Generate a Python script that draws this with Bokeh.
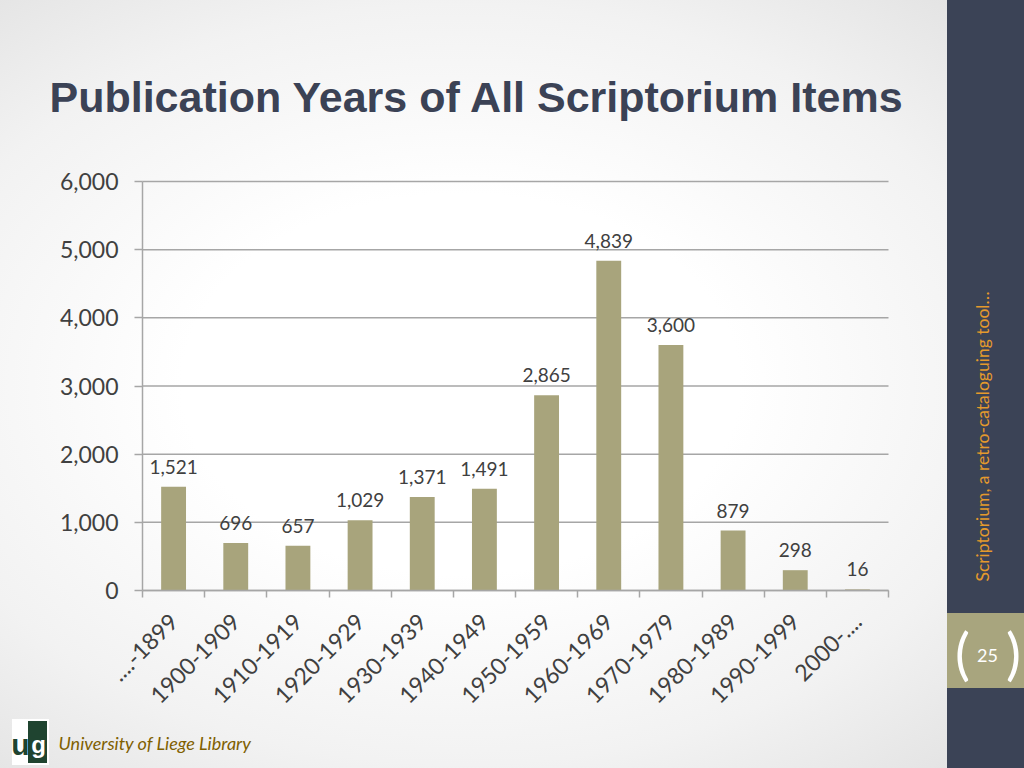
import math
from bokeh.plotting import figure
from bokeh.models import (Range1d, FixedTicker, Label, LabelSet, ColumnDataSource,
                          NumeralTickFormatter, LinearAxis)
from bokeh.core.properties import value
from bokeh.embed import file_html
from bokeh.resources import INLINE

# ---- data ----
categories = ["....-1899", "1900-1909", "1910-1919", "1920-1929", "1930-1939",
              "1940-1949", "1950-1959", "1960-1969", "1970-1979", "1980-1989",
              "1990-1999", "2000-...."]
counts = [1521, 696, 657, 1029, 1371, 1491, 2865, 4839, 3600, 879, 298, 16]
y_ticks = [0, 1000, 2000, 3000, 4000, 5000, 6000]

title_text = "Publication Years of All Scriptorium Items"
side_text = "Scriptorium, a retro-cataloguing tool\u2026"
page_number = "25"
footer_text = "University of Liege Library"

W, H = 1024, 768
FL, FR, FT, FB = 142, 888, 181, 590   # chart area edges in page pixels
YMAX = 6000
N = len(categories)
BAR = "#a8a47c"
GRID = "#a6a6a6"
TXT = "#404040"
SIDEBAR = "#3b4356"
LOGO = "#1f4430"

# data ranges chosen so the chart area (0..N, 0..YMAX) lands at FL..FR, FB..FT
xpx = (FR - FL) / N
ypx = YMAX / (FB - FT)
x_range = Range1d(-FL / xpx, N + (W - FR) / xpx)
y_range = Range1d(-(H - FB) * ypx, YMAX + FT * ypx)

xpos = [i + 0.5 for i in range(N)]
labels = [f"{v:,}" for v in counts]
src = ColumnDataSource(dict(x=xpos, y=counts, lab=labels, cat=categories))
grid_src = ColumnDataSource(dict(x0=[0] * len(y_ticks), x1=[N] * len(y_ticks),
                                 y=y_ticks))

p = figure(width=W, height=H, output_backend="svg", toolbar_location=None,
           x_range=x_range, y_range=y_range,
           x_axis_location=None, y_axis_location=None, min_border=0)
p.border_fill_color = None
p.background_fill_color = None
p.outline_line_color = None
p.xgrid.visible = False
p.ygrid.visible = False
p.styles = {
    "background":
        f"linear-gradient({LOGO},{LOGO}) 28px 721px / 19px 42px no-repeat, "
        "linear-gradient(#ffffff,#ffffff) 12px 719px / 37px 46px no-repeat, "
        "linear-gradient(#a8a57e,#a8a57e) 947px 613px / 77px 75px no-repeat, "
        f"linear-gradient({SIDEBAR},{SIDEBAR}) 947px 0px / 77px 100% no-repeat, "
        "radial-gradient(ellipse at 45% 50%, #ffffff 35%, #f2f2f2 70%, #e0e0e0 100%)"
}

# horizontal gridlines, limited to the chart area
p.segment(x0="x0", x1="x1", y0="y", y1="y", source=grid_src,
          line_color=GRID, line_width=1.5)

p.vbar(x="x", top="y", width=0.4, source=src, fill_color=BAR, line_color=None)

p.add_layout(LabelSet(x="x", y="y", text="lab", source=src, y_offset=13,
                      text_align="center", text_baseline="bottom",
                      text_font=value("Lato"), text_font_size=value("19px"),
                      text_color=TXT))

# y axis
yaxis = LinearAxis(fixed_location=0, bounds=(0, YMAX),
                   ticker=FixedTicker(ticks=y_ticks),
                   formatter=NumeralTickFormatter(format="0,0"))
yaxis.axis_line_color = GRID
yaxis.axis_line_width = 1.5
yaxis.major_tick_line_color = GRID
yaxis.major_tick_line_width = 1.5
yaxis.major_tick_out = 8
yaxis.major_tick_in = 0
yaxis.minor_tick_line_color = None
yaxis.major_label_standoff = 16
yaxis.major_label_text_font = "Lato"
yaxis.major_label_text_font_size = "23px"
yaxis.major_label_text_color = TXT
p.add_layout(yaxis, "left")

# x axis: labels at centers, tick marks at boundaries
xaxis = LinearAxis(fixed_location=0, bounds=(0, N),
                   ticker=FixedTicker(ticks=xpos, minor_ticks=list(range(N + 1))))
xaxis.major_label_overrides = {x: c for x, c in zip(xpos, categories)}
xaxis.major_label_orientation = math.pi / 4
xaxis.axis_line_color = GRID
xaxis.axis_line_width = 1.5
xaxis.major_tick_line_color = None
xaxis.major_tick_out = 0
xaxis.major_tick_in = 0
xaxis.minor_tick_line_color = GRID
xaxis.minor_tick_line_width = 1.5
xaxis.minor_tick_out = 7
xaxis.minor_tick_in = 0
xaxis.major_label_standoff = 20
xaxis.major_label_text_font = "Lato"
xaxis.major_label_text_font_size = "23px"
xaxis.major_label_text_color = TXT
p.add_layout(xaxis, "below")


# ---- slide decorations (screen units: x from left, y up from bottom of frame) ----
def sy(y):
    return H - y


def deco(x, y, text, size, color, font="Lato", style="normal", align="left", angle=0.0):
    p.add_layout(Label(x=x, y=sy(y), x_units="screen", y_units="screen", text=text,
                       text_font=font, text_font_style=style, text_font_size=size,
                       text_color=color, text_align=align, text_baseline="middle",
                       angle=angle))


deco(49, 96, title_text, "43px", "#3b4255", font="Liberation Sans", style="bold")
deco(982, 436, side_text, "17.5px", "#e59a2c", align="center", angle=math.pi / 2)
deco(987, 655, page_number, "18px", "white", align="center")
deco(962, 652, "(", "56px", "white", align="center")
deco(1013, 652, ")", "56px", "white", align="center")
deco(58, 742, footer_text, "18px", "#7f6000", style="italic")
# logo (approximation)
deco(20, 744, "u", "30px", LOGO, font="Liberation Sans", style="bold", align="center")
deco(38, 744, "g", "24px", "white", font="Liberation Sans", style="bold", align="center")

open("out.html", "w").write(file_html(p, INLINE))
